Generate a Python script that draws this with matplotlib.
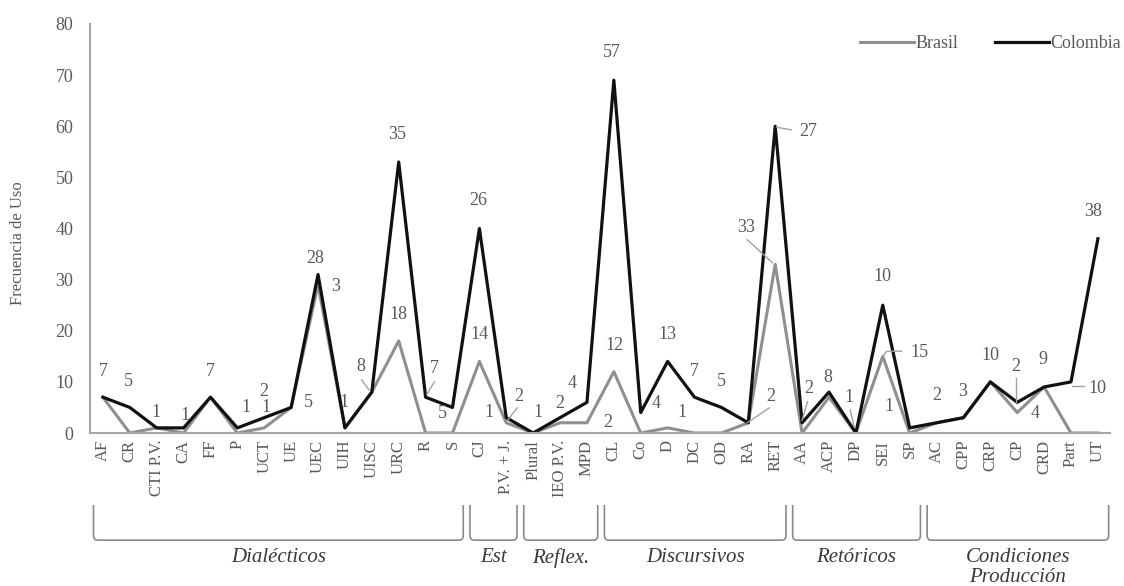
import numpy as np
import matplotlib.pyplot as plt
import matplotlib.transforms as mtransforms
from matplotlib.path import Path
from matplotlib.patches import PathPatch

plt.rcParams['font.family'] = ['Liberation Serif', 'DejaVu Serif']

# categorías del eje x
categorias = ['AF', 'CR', 'CTI P.V.', 'CA', 'FF', 'P', 'UCT', 'UE', 'UEC', 'UIH',
              'UISC', 'URC', 'R', 'S', 'CJ', 'P.V. + J.', 'Plural', 'IEO P.V.', 'MPD',
              'CL', 'Co', 'D', 'DC', 'OD', 'RA', 'RET', 'AA', 'ACP', 'DP', 'SEI', 'SP',
              'AC', 'CPP', 'CRP', 'CP', 'CRD', 'Part', 'UT']

brasil = [7, 0, 1, 0, 7, 0, 1, 5, 29, 1, 8, 18, 0, 0, 14, 2, 0, 2, 2,
          12, 0, 1, 0, 0, 2, 33, 0, 7, 0, 15, 0, 2, 3, 10, 4, 9, 0, 0]
colombia = [7, 5, 1, 1, 7, 1, 3, 5, 31, 1, 8, 53, 7, 5, 40, 3, 0, 3, 6,
            69, 4, 14, 7, 5, 2, 60, 2, 8, 0, 25, 1, 2, 3, 10, 6, 9, 10, 38]

# grupos (índice inicial y final de cada uno)
grupos = ['Dialécticos', 'Est', 'Reflex.', 'Discursivos', 'Retóricos', 'Condiciones\nProducción']
grupo_inicio = [0, 14, 16, 19, 26, 31]
grupo_fin = [13, 15, 18, 25, 30, 37]

# etiquetas de datos tal como aparecen en la figura original
etiquetas = ['7', '5', '1', '1', '7', '1', '2', '1', '5', '28', '3', '1', '8', '18', '35',
             '7', '5', '26', '14', '1', '2', '1', '2', '4', '57', '12', '2', '4', '13', '1',
             '7', '5', '2', '33', '27', '2', '8', '1', '10', '15', '1', '2', '3', '10', '2',
             '4', '9', '10', '38']
etq_x = [0.0, 0.96, 1.96, 3.07, 4.0, 5.31, 5.98, 6.05, 7.64, 7.9, 8.64, 8.98, 9.58, 10.99, 10.95,
         12.33, 12.62, 13.97, 14.0, 14.37, 15.45, 16.16, 16.98, 17.46, 18.94, 19.02, 18.76, 20.58, 20.99, 21.55,
         21.99, 22.99, 24.85, 23.92, 26.23, 26.23, 26.94, 27.75, 29.0, 30.35, 29.24, 30.99, 31.96, 33.0, 33.96,
         34.67, 34.97, 37.0, 36.83]
etq_y = [12.1, 10.0, 4.1, 3.5, 12.1, 4.9, 8.2, 4.9, 5.9, 34.2, 28.6, 5.9, 13.1, 23.1, 58.3,
         12.7, 3.9, 45.4, 19.2, 4.1, 7.2, 4.1, 5.7, 9.6, 74.4, 17.2, 2.0, 5.7, 19.2, 4.1,
         12.1, 10.0, 7.2, 40.1, 58.9, 8.8, 10.8, 7.0, 30.7, 15.7, 5.1, 7.4, 8.2, 15.1, 13.1,
         3.9, 14.3, 8.8, 43.3]

# líneas guía de algunas etiquetas
guias = [
    [(9.62, 10.4), (9.9, 8.4)],
    [(12.33, 10.0), (12.05, 7.6)],
    [(15.4, 4.9), (15.05, 2.5)],
    [(24.78, 4.9), (23.96, 2.0)],
    [(23.96, 37.8), (24.9, 33.3)],
    [(25.05, 59.8), (25.6, 59.3)],
    [(26.2, 6.1), (26.0, 2.5)],
    [(27.79, 4.5), (27.94, 1.2)],
    [(29.0, 15.0), (29.15, 16.0), (29.7, 16.0)],
    [(33.96, 10.8), (33.96, 6.1)],
    [(36.05, 9.2), (36.5, 9.2)],
]

gris = '#8f8f8f'
texto = '#595959'

fig = plt.figure(figsize=(11.24, 5.86), dpi=100)
ax = fig.add_axes([90 / 1124, 153 / 586, 1020 / 1124, 409 / 586])

x = np.arange(len(categorias))
ax.plot(x, brasil, color=gris, lw=2.2, label='Brasil')
ax.plot(x, colombia, color='#111111', lw=2.3, label='Colombia')

ax.set_xlim(-0.48, 37.45)
ax.set_ylim(0, 80)
ax.set_yticks(range(0, 81, 10))
ax.set_xticks(x)
ax.set_xticklabels(categorias, rotation=90, fontsize=12, color=texto)
ax.tick_params(axis='x', length=0, pad=5)
ax.tick_params(axis='y', length=0, pad=12, labelsize=13, labelcolor=texto)
for s in ['top', 'right']:
    ax.spines[s].set_visible(False)
for s in ['left', 'bottom']:
    ax.spines[s].set_color('#a6a6a6')
    ax.spines[s].set_linewidth(1.5)

for t, xx, yy in zip(etiquetas, etq_x, etq_y):
    ax.text(xx, yy, t, ha='center', va='center', fontsize=13, color=texto)
for g in guias:
    gx, gy = zip(*g)
    ax.plot(gx, gy, color='#a0a0a0', lw=1)

fig.text(18 / 1124, 1 - 243 / 586, 'Frecuencia de Uso', rotation=90,
         ha='center', va='center', fontsize=12, color=texto)

ax.legend(loc='upper right', bbox_to_anchor=(1.012, 0.968), bbox_transform=fig.transFigure,
          ncol=2, frameon=False, fontsize=13, handlelength=3.0, columnspacing=2.0,
          handletextpad=0.1, labelcolor=texto)

# llaves de los grupos bajo el eje
trans = mtransforms.blended_transform_factory(ax.transData, ax.transAxes)
arriba, abajo = -0.176, -0.262
rx, ry = 0.15, 0.012
for nombre, i0, i1 in zip(grupos, grupo_inicio, grupo_fin):
    x0, x1 = i0 - 0.35, i1 + 0.4
    verts = [(x0, arriba), (x0, abajo + ry), (x0, abajo), (x0 + rx, abajo),
             (x1 - rx, abajo), (x1, abajo), (x1, abajo + ry), (x1, arriba)]
    codes = [Path.MOVETO, Path.LINETO, Path.CURVE3, Path.CURVE3,
             Path.LINETO, Path.CURVE3, Path.CURVE3, Path.LINETO]
    ax.add_patch(PathPatch(Path(verts, codes), transform=trans, fill=False,
                           edgecolor='#8a8a8a', lw=1.2, clip_on=False))
    ax.text((x0 + x1) / 2, -0.281, nombre, transform=trans, ha='center', va='top',
            fontsize=15, style='italic', color='#3a3a3a', linespacing=1.1)

fig.savefig('out.png', dpi=100)
